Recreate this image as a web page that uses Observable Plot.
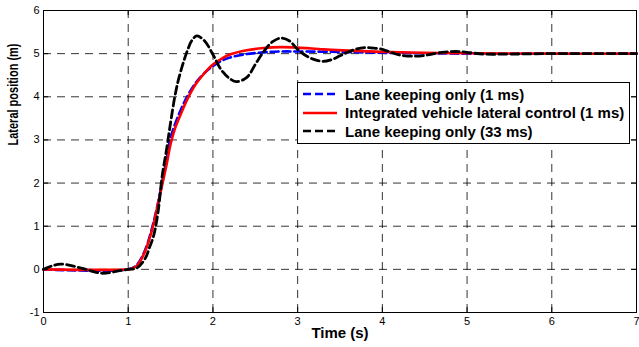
<!DOCTYPE html>
<html><head><meta charset="utf-8">
<script src="https://cdn.jsdelivr.net/npm/d3@7"></script>
<script src="https://cdn.jsdelivr.net/npm/@observablehq/plot@0.6"></script>
<style>
body{margin:0;background:#fff;font-family:"Liberation Sans",Arial,sans-serif;}
#wrap{position:relative;width:639px;height:347px;}
#legend{position:absolute;left:297px;top:82px;width:331px;height:58px;border:1px solid #000;background:#fff;box-sizing:content-box;padding-top:2px;}
.row{height:18.5px;display:flex;align-items:center;font-weight:bold;font-size:15px;color:#000;white-space:nowrap;}
.row svg{margin-left:5px;margin-right:8px;flex:none;}
</style></head>
<body>
<div id="wrap"></div>
<script>
const xTicks = [0, 1, 2, 3, 4, 5, 6, 7];
const yTicks = [-1, 0, 1, 2, 3, 4, 5, 6];

const seriesNames = ["Lane keeping only (1 ms)", "Integrated vehicle lateral control (1 ms)", "Lane keeping only (33 ms)"];

const tBlue = [0, 1.0, 1.1, 1.2, 1.3, 1.4, 1.45, 1.5, 1.6, 1.7, 1.8, 1.9, 2.0, 2.1, 2.2, 2.4, 2.6, 2.8, 3.0, 3.5, 4.0, 5.0, 7.0];
const vBlue = [0, 0, 0.1, 0.45, 1.1, 2.0, 2.5, 3.05, 3.6, 4.02, 4.33, 4.55, 4.71, 4.83, 4.91, 4.99, 5.03, 5.05, 5.05, 5.04, 5.02, 5.0, 5.0];

const tRed = [0, 1.0, 1.05, 1.1, 1.15, 1.2, 1.25, 1.3, 1.35, 1.4, 1.45, 1.5, 1.55, 1.6, 1.7, 1.8, 1.9, 2.0, 2.1, 2.2, 2.4, 2.6, 2.8, 3.0, 3.3, 3.6, 4.0, 4.5, 5.0, 6.0, 7.0];
const vRed = [0, 0, 0.02, 0.08, 0.22, 0.42, 0.7, 1.05, 1.5, 1.95, 2.4, 2.9, 3.25, 3.5, 3.95, 4.3, 4.55, 4.75, 4.88, 4.98, 5.08, 5.13, 5.15, 5.14, 5.1, 5.07, 5.04, 5.02, 5.01, 5.0, 5.0];

const tBlack = [0, 0.1, 0.2, 0.3, 0.4, 0.5, 0.6, 0.7, 0.8, 0.9, 1.0, 1.1, 1.2, 1.25, 1.3, 1.35, 1.4, 1.45, 1.5, 1.55, 1.6, 1.7, 1.75, 1.81, 1.9, 2.0, 2.1, 2.2, 2.28, 2.4, 2.5, 2.6, 2.7, 2.8, 2.9, 3.0, 3.1, 3.2, 3.3, 3.4, 3.5, 3.6, 3.7, 3.8, 3.9, 4.0, 4.1, 4.2, 4.35, 4.5, 4.7, 4.86, 5.0, 5.2, 5.5, 6.0, 7.0];
const vBlack = [0, 0.08, 0.12, 0.1, 0.05, 0.0, -0.06, -0.09, -0.07, -0.03, 0, 0.03, 0.25, 0.5, 0.78, 1.3, 2.15, 2.75, 3.4, 4.0, 4.45, 5.08, 5.3, 5.41, 5.3, 4.98, 4.62, 4.42, 4.35, 4.45, 4.75, 5.05, 5.27, 5.36, 5.3, 5.1, 4.95, 4.86, 4.82, 4.86, 4.95, 5.04, 5.11, 5.14, 5.13, 5.1, 5.03, 4.97, 4.94, 4.96, 5.03, 5.05, 5.03, 4.99, 4.99, 5.0, 5.0];

const toRows = (ts, vs) => ts.map((t, i) => ({t, v: vs[i]}));
const blue = toRows(tBlue, vBlue);
const red = toRows(tRed, vRed);
const black = toRows(tBlack, vBlack);

const W = 639, H = 347, mL = 43, mR = 3, mT = 10, mB = 35;
const fw = W - mL - mR, fh = H - mT - mB;
const tick = 5;

const chart = Plot.plot({
  width: W, height: H,
  marginLeft: mL, marginRight: mR, marginTop: mT, marginBottom: mB,
  style: {fontFamily: '"Liberation Sans", Arial, sans-serif', fontSize: "11px", color: "#000", background: "#fff", overflow: "visible"},
  x: {domain: [0, 7]},
  y: {domain: [-1, 6]},
  marks: [
    Plot.gridX(xTicks.slice(1, -1), {stroke: "#000", strokeOpacity: 0.8, strokeWidth: 1, strokeDasharray: "8,6"}),
    Plot.gridY(yTicks.slice(1, -1), {stroke: "#000", strokeOpacity: 0.8, strokeWidth: 1, strokeDasharray: "8,6"}),
    Plot.line(blue, {x: "t", y: "v", stroke: "#0000ff", strokeWidth: 2.6, strokeDasharray: "8,4", curve: "catmull-rom"}),
    Plot.line(red, {x: "t", y: "v", stroke: "#ff0000", strokeWidth: 2.6, curve: "catmull-rom"}),
    Plot.line(black, {x: "t", y: "v", stroke: "#000", strokeWidth: 2.8, strokeDasharray: "8,4", curve: "catmull-rom"}),
    Plot.tickX(xTicks, {x: d => d, stroke: "#000", insetTop: fh - tick}),
    Plot.tickX(xTicks, {x: d => d, stroke: "#000", insetBottom: fh - tick}),
    Plot.tickY(yTicks, {y: d => d, stroke: "#000", insetRight: fw - tick}),
    Plot.tickY(yTicks, {y: d => d, stroke: "#000", insetLeft: fw - tick}),
    Plot.frame({stroke: "#000", strokeWidth: 1}),
    Plot.axisX({ticks: xTicks, tickSize: 0, tickPadding: 5, fontSize: 11, label: null, tickFormat: d => String(d)}),
    Plot.axisY({ticks: yTicks, tickSize: 0, tickPadding: 4, fontSize: 11, label: null, tickFormat: d => String(d)}),
    Plot.text(["Time (s)"], {frameAnchor: "bottom", dy: 25, fontWeight: "bold", fontSize: 15, fill: "#000"}),
    Plot.text(["Lateral position (m)"], {frameAnchor: "left", dx: -30, dy: -16, rotate: -90, fontWeight: "bold", fontSize: 11, fill: "#000", className: "ylab"})
  ]
});
const wrap = document.getElementById("wrap");
wrap.appendChild(chart);
// widen the rotated y label's glyphs (as in the reference)
d3.select(chart).selectAll(".ylab text").each(function() {
  const tr = this.getAttribute("transform") || "";
  this.setAttribute("transform", tr + " scale(1,1.3)");
});

const legendStyles = [
  {stroke: "#0000ff", dash: "8,4"},
  {stroke: "#ff0000", dash: null},
  {stroke: "#000", dash: "8,4"}
];
const leg = document.createElement("div");
leg.id = "legend";
seriesNames.forEach((name, i) => {
  const row = document.createElement("div");
  row.className = "row";
  const s = legendStyles[i];
  row.innerHTML = `<svg width="34" height="6"><line x1="0" y1="3" x2="34" y2="3" stroke="${s.stroke}" stroke-width="2.6" ${s.dash ? `stroke-dasharray="${s.dash}"` : ""}/></svg><span>${name}</span>`;
  leg.appendChild(row);
});
wrap.appendChild(leg);
</script>
</body></html>
